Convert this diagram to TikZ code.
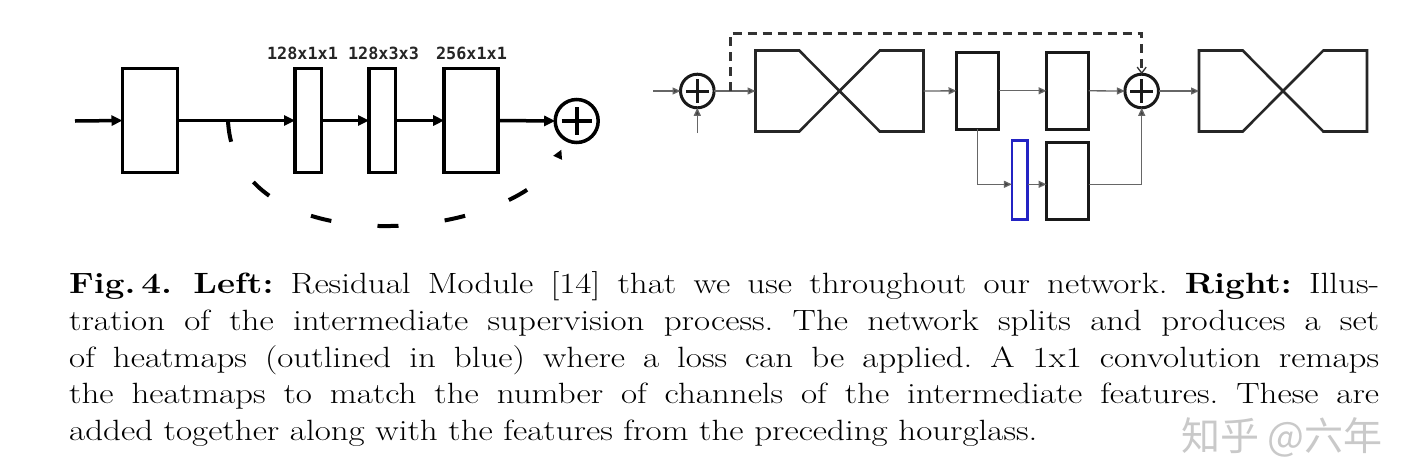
\documentclass[tikz,border=0pt]{standalone}
\usepackage{fontspec}
\usepackage{graphicx}
\newfontfamily\labfont{DejaVu Sans Mono}
\newfontfamily\cjkfont{Noto Sans CJK SC}
\usetikzlibrary{arrows.meta,calc}
\definecolor{hmblue}{RGB}{35,35,195}
\definecolor{wmgray}{RGB}{188,188,188}
\frenchspacing
\newcommand\hgdraw[1]{%
  \draw[hgline] (#1.north west) -- ($(#1.north west)!0.26!(#1.north east)$)
    -- ($(#1.south west)!0.74!(#1.south east)$) -- (#1.south east)
    -- (#1.north east) -- ($(#1.north west)!0.74!(#1.north east)$)
    -- ($(#1.south west)!0.26!(#1.south east)$) -- (#1.south west) -- cycle;}
\newcommand\capjust[1]{\scalebox{1.195}[1]{\makebox[1096.2pt][s]{#1}}}
\newcommand\capplain[1]{\scalebox{1.195}[1]{#1}}
\begin{document}
\begin{tikzpicture}[x=1pt,y=-1pt,
  lbox/.style={draw=black,line width=3.5pt,inner sep=0pt,outer sep=0pt,minimum height=104pt},
  lcirc/.style={draw=black,circle,line width=3.5pt,inner sep=0pt,outer sep=0pt,minimum size=43pt},
  larrow/.style={line width=3.5pt,draw=black,-{Triangle[length=11pt,width=10pt]}},
  lplus/.style={line width=3.8pt,draw=black},
  rbox/.style={draw=black!90,line width=3pt,inner sep=0pt,outer sep=0pt},
  rcirc/.style={draw=black!90,circle,line width=3pt,inner sep=0pt,outer sep=0pt,minimum size=33.6pt},
  rplus/.style={line width=3pt,draw=black!90},
  hgnode/.style={draw=none,inner sep=0pt,outer sep=0pt,minimum width=168pt,minimum height=81pt},
  hgline/.style={draw=black!85,line width=2.6pt},
  rarrow/.style={line width=1.3pt,draw=black!60,-{Triangle[length=8pt,width=7pt,fill=black!75]}},
  skipline/.style={line width=3pt,draw=black!80,dash pattern=on 9pt off 6pt,
     -{Straight Barb[length=6pt,width=9pt,line width=1.3pt]}},
  lskipline/.style={line width=4pt,draw=black,dash pattern=on 21pt off 46.5pt,
     -{Triangle[length=9pt,width=9pt]}},
  labtext/.style={font=\labfont\bfseries\fontsize{16.8}{18}\selectfont,text=black!85,inner sep=0pt},
  captext/.style={anchor=base west,inner sep=0pt,font=\fontsize{29.3}{36.7}\selectfont}
]
\fill[white] (0,0) rectangle (1412,472);
\useasboundingbox (0,0) rectangle (1412,472);

% ---------- left: residual module ----------
\coordinate (lin) at (75,121);
\node[lbox,minimum width=55pt] (b1) at (150,120.5) {};
\node[lbox,minimum width=26.5pt] (b2) at (308.3,120.5) {};
\node[lbox,minimum width=26.5pt] (b3) at (382.3,120.5) {};
\node[lbox,minimum width=54pt] (b4) at (471.2,120.5) {};
\node[lcirc] (c1) at (576.7,121) {};
\draw[lplus] ($(c1.center)+(-15,0)$) -- ($(c1.center)+(15,0)$);
\draw[lplus] ($(c1.center)+(0,-14)$) -- ($(c1.center)+(0,14)$);

\draw[larrow] (lin) -- (b1.west);
\draw[larrow] (b1.east) -- (b2.west);
\draw[larrow] (b2.east) -- (b3.west);
\draw[larrow] (b3.east) -- (b4.west);
\draw[larrow] (b4.east) -- (c1.west);

\coordinate (ds) at (228,121);
\draw[lskipline,shorten >=11pt] (ds) .. controls (236,270) and (520,240) .. (c1.240);

\node[labtext] (l2) at (302.5,53) {128x1x1};
\node[labtext] (l3) at (383.5,53) {128x3x3};
\node[labtext] (l4) at (471.5,53) {256x1x1};

% ---------- right: intermediate supervision ----------
\coordinate (rin) at (653,91);
\coordinate (rbot) at (697.3,133);
\node[rcirc] (p1) at (697.3,91) {};
\draw[rplus] ($(p1.center)+(-11.5,0)$) -- ($(p1.center)+(11.5,0)$);
\draw[rplus] ($(p1.center)+(0,-12)$) -- ($(p1.center)+(0,12)$);

\node[hgnode] (hg1) at (839.5,91) {};
\hgdraw{hg1}
\node[rbox,minimum width=42pt,minimum height=76.5pt] (A) at (977.5,90.8) {};
\node[rbox,minimum width=42pt,minimum height=76.5pt] (B) at (1067.5,90.8) {};
\node[rcirc] (p2) at (1141.7,91) {};
\draw[rplus] ($(p2.center)+(-11.5,0)$) -- ($(p2.center)+(11.5,0)$);
\draw[rplus] ($(p2.center)+(0,-12)$) -- ($(p2.center)+(0,12)$);
\node[hgnode] (hg2) at (1283,91) {};
\hgdraw{hg2}

\node[draw=hmblue,line width=2.6pt,inner sep=0pt,outer sep=0pt,
      minimum width=15.8pt,minimum height=79.5pt] (hm) at (1019.8,180) {};
\node[rbox,minimum width=42pt,minimum height=77.3pt] (C) at (1067.5,180.8) {};

\draw[rarrow] (rin) -- (p1.west);
\draw[rarrow] (rbot) -- (p1.south);
\draw[rarrow] (p1.east) -- (hg1.west);
\draw[rarrow] (hg1.east) -- (A.west);
\draw[rarrow] (A.east) -- (B.west);
\draw[rarrow] (B.east) -- (p2.west);
\draw[rarrow] (p2.east) -- (hg2.west);

\coordinate (jb) at (977.5,184.3);
\draw[rarrow] (A.south) -- (jb) -- (hm.west |- jb);
\draw[rarrow] (hm.east |- jb) -- (C.west |- jb);
\draw[rarrow] (C.east |- jb) -| (p2.south);

\coordinate (dstart) at (730.5,91);
\coordinate (dtop) at (730.5,33);
\draw[skipline] (dstart) -- (dtop) -| (p2.north);

% ---------- caption ----------
\node[captext] (cap1) at (69,293.7) {\capjust{\textbf{Fig.\,4.~Left:} Residual Module [14] that we use throughout our network. \textbf{Right:} Illus-}};
\node[captext] (cap2) at (69,330.4) {\capjust{tration of the intermediate supervision process. The network splits and produces a set}};
\node[captext] (cap3) at (69,367.1) {\capjust{of heatmaps (outlined in blue) where a loss can be applied. A 1x1 convolution remaps}};
\node[captext] (cap4) at (69,403.8) {\capjust{the heatmaps to match the number of channels of the intermediate features. These are}};
\node[captext] (cap5) at (69,440.5) {\capplain{added together along with the features from the preceding hourglass.}};

\node[anchor=base west,inner sep=0pt,text=wmgray,text opacity=0.8,
      font=\cjkfont\fontsize{39}{40}\selectfont] (wm) at (1181,450) {知乎 @六年};
\end{tikzpicture}
\end{document}
